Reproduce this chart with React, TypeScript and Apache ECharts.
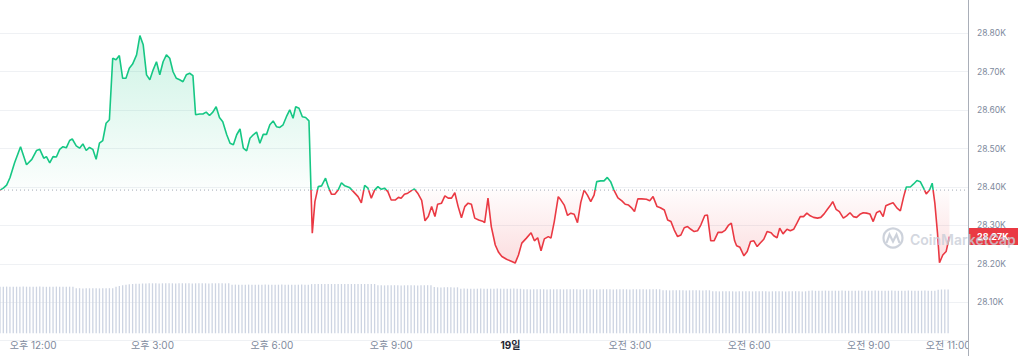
import React, { useEffect, useRef } from 'react';
import * as echarts from 'echarts';

// Opening price (dotted baseline)
const OPEN = 28392;

// Minutes from 18th, 12:00 PM
const TIMES = [-50,-45,-40,-35,-28,-19,-10,-2,5,10,16,20,25,30,35,40,45,50,55,59,65,70,75,80,85,90,95,100,105,110,115,
120,125,130,135,140,145,150,156,161,166,171,176,181,186,191,196,201,206,211,216,221,226,231,236,241,245,251,256,261,266,271,276,281,286,292,297,302,307,312,317,322,327,332,337,342,347,352,357,362,367,372,377,382,387,392,396,401,406,411,416,
421,425,430,435,441,445,450,455,460,465,470,477,483,490,495,500,505,510,515,520,525,530,535,540,546,551,555,560,565,570,575,580,586,591,596,601,606,610,616,621,626,631,636,641,646,651,656,661,666,672,679,681,686,691,697,
702,707,714,722,727,732,737,744,751,756,761,766,771,777,781,786,792,796,801,806,811,816,821,826,831,836,841,846,850,856,861,866,871,876,882,888,893,898,903,907,912,918,925,930,935,941,946,952,957,962,967,972,977,982,987,992,997,1002,1007,1013,1017,1022,1027,1033,1039,1044,1049,1053,1058,
1061,1066,1072,1077,1082,1087,1092,1097,1102,1107,1113,1117,1122,1126,1131,1137,1142,1147,1152,1157,1162,1167,1172,1177,1183,1188,1193,1198,1202,1206,1211,1216,1222,1227,1232,1237,1242,1247,1252,1257,1262,1267,1272,1277,1282,1286,1292,1297,1303,1308,1313,1317,1323,1328,1333,1338,1343,1347,1352,1356,1360,1364,1367,1372,1377,1382];

const PRICES = [28392,28397,28405,28424,28463,28505,28458,28472,28495,28498,28475,28479,28463,28479,28478,28498,28505,28502,28521,28525,28507,28501,28512,28495,28503,28498,28472,28514,28521,28566,28575,
28735,28731,28742,28683,28683,28709,28720,28744,28794,28770,28692,28679,28705,28726,28692,28726,28744,28735,28700,28683,28679,28674,28692,28696,28690,28588,28590,28590,28595,28586,28595,28609,28581,28570,28536,28514,28510,28536,28551,28501,28494,28527,28536,28543,28514,28537,28537,28562,28572,28557,28555,28562,28583,28601,28579,28609,28605,28583,28581,28572,
28280,28362,28401,28403,28423,28401,28381,28381,28392,28411,28403,28399,28388,28375,28359,28404,28397,28371,28392,28401,28394,28397,28388,28366,28366,28373,28371,28381,28384,28390,28395,28384,28365,28312,28323,28349,28323,28355,28358,28377,28371,28371,28385,28349,28320,28349,28358,28355,28319,28314,28310,28307,28371,28297,28249,
28230,28219,28212,28206,28202,28223,28254,28267,28281,28260,28268,28234,28265,28271,28267,28310,28375,28366,28353,28326,28332,28329,28307,28360,28392,28379,28362,28379,28414,28416,28416,28425,28414,28392,28372,28364,28355,28353,28345,28336,28369,28369,28368,28364,28375,28349,28346,28340,28314,28310,28288,28271,28275,28294,28297,28290,28284,28286,28301,28326,28327,28260,28260,28282,28282,28288,28301,28306,28260,
28247,28243,28221,28232,28258,28260,28245,28255,28264,28284,28281,28273,28268,28293,28278,28290,28286,28290,28306,28323,28323,28332,28325,28321,28319,28321,28330,28342,28351,28362,28342,28336,28319,28325,28333,28323,28321,28329,28333,28332,28330,28310,28333,28338,28323,28351,28356,28359,28345,28338,28375,28400,28400,28408,28417,28414,28397,28382,28392,28410,28358,28280,28203,28223,28232,28271];

// Volume bars: one per 5 minutes, starting at VOL_START (relative units)
const VOL_START = -50;
const VOL_STEP = 5;
const VOLUMES = [
46.5,46.6,46.7,46.6,46.5,46.6,46.6,46.7,46.6,46.5,46.6,46.6,
46.7,46.6,46.5,46.6,46.6,46.7,46.6,46.5,46.6,46.6,46.6,
45.0,45.1,44.9,45.0,45.0,45.1,45.0,44.9,45.0,45.0,45.1,45.0,
46.5,47.2,48.0,48.6,49.0,49.3,49.5,49.6,49.8,
49.9,50.0,50.1,50.0,49.9,50.0,50.0,50.1,50.0,49.9,50.0,50.1,50.0,50.0,49.9,50.0,50.1,50.0,50.0,49.9,50.0,50.0,50.1,50.0,49.9,50.0,
48.6,48.7,48.5,48.6,48.6,48.7,48.6,48.5,48.6,48.6,48.7,48.6,48.5,48.6,48.6,48.7,48.6,48.6,48.5,48.6,48.6,48.7,48.6,48.6,
49.2,49.3,49.4,49.3,49.3,49.2,49.3,49.4,49.3,49.3,49.2,49.3,49.3,49.4,49.3,49.2,49.3,49.3,49.4,49.3,
48.0,48.1,47.9,48.0,48.0,48.1,48.0,47.9,48.0,48.0,48.1,48.0,47.9,48.0,48.0,48.1,48.0,
46.2,46.0,45.9,46.0,46.1,46.0,45.9,46.0,
44.6,44.7,44.6,44.5,44.6,44.6,44.7,44.6,44.5,44.6,44.6,44.7,44.6,44.5,44.6,44.6,44.7,44.6,44.5,
44.0,44.1,43.9,44.0,44.0,44.1,44.0,43.9,44.0,44.0,44.1,44.0,43.9,44.0,44.0,44.1,44.0,43.9,44.0,44.0,44.1,
44.0,43.9,44.0,44.0,44.1,44.0,43.9,44.0,44.0,44.1,44.0,43.9,44.0,44.0,44.1,44.0,43.9,44.0,44.0,44.1,44.0,
43.0,43.1,42.9,43.0,43.0,43.1,43.0,42.9,43.0,43.0,43.1,43.0,42.9,43.0,43.0,
42.0,42.1,41.9,42.0,42.0,42.1,42.0,41.9,42.0,42.0,42.1,42.0,41.9,42.0,42.0,42.1,42.0,41.9,42.0,42.0,42.1,42.0,41.9,42.0,42.0,42.1,42.0,41.9,42.0,
42.6,42.7,42.5,42.6,42.6,42.7,42.6,42.5,42.6,42.6,42.7,42.6,42.5,42.6,42.6,42.7,42.6,42.5,42.6,42.6,
42.7,42.6,42.5,42.6,42.6,42.7,42.6,42.5,42.6,42.6,42.7,42.6,42.5,42.6,42.6,42.7,42.6,42.5,42.6,
43.6,43.8,43.8,43.9];

// Time-axis labels (minutes from 18th 12:00 PM)
const X_TICKS = [0, 180, 360, 540, 720, 900, 1080, 1260, 1380];
const X_LABELS = ['오후 12:00', '오후 3:00', '오후 6:00', '오후 9:00', '19일', '오전 3:00', '오전 6:00', '오전 9:00', '오전 11:00'];
const DAY_TICK = 720;
const X_MIN = -50;
const X_MAX = 1410;
const X_LAB_MIN = -180;
const X_LAB_MAX = 1440;
const X_LAB_STEP = 60;
const Y_MIN = 28000;
const Y_MAX = 28900;
const Y_STEP = 100;

const GREEN = '#16c784';
const RED = '#ea3943';
const FONT = 'Inter, "Noto Sans CJK KR", "Noto Sans", sans-serif';

// layout (pixels). The chart canvas is offset up/left so that axis ranges can start outside the visible page.
const W = 1018;
const H = 356;
const OX = 90;
const OY = 10;
const PLOT_W = 968;
const PX_PER_MIN = PLOT_W / (X_MAX - X_MIN);

export default function App() {
  const ref = useRef<HTMLDivElement>(null);

  useEffect(() => {
    const chart = echarts.init(ref.current!, null, { renderer: 'svg' });
    const priceData = TIMES.map((t, i) => [t, PRICES[i]]);
    const volData = VOLUMES.map((v, i) => [VOL_START + i * VOL_STEP, v]);
    const pMax = Math.max(...PRICES);
    const pMin = Math.min(...PRICES);
    const split = (pMax - OPEN) / (pMax - pMin);

    const volLeft = OX + (X_LAB_MIN - X_MIN) * PX_PER_MIN;
    const volWidth = (X_LAB_MAX - X_LAB_MIN) * PX_PER_MIN;

    const gridColor = '#eff1f4';
    chart.setOption({
      animation: false,
      textStyle: { fontFamily: FONT },
      grid: [
        { left: OX, width: PLOT_W, top: OY - 5.1, height: 345.8 },
        { left: volLeft, width: volWidth, top: OY + 283.3, height: 50 },
      ],
      xAxis: [
        { type: 'value', gridIndex: 0, min: X_MIN, max: X_MAX, show: false },
        {
          type: 'value', gridIndex: 1, min: X_LAB_MIN, max: X_LAB_MAX, interval: X_LAB_STEP,
          axisLine: { show: false }, axisTick: { show: false }, splitLine: { show: false },
          axisLabel: {
            margin: 7,
            fontSize: 10,
            color: '#808a9d',
            fontFamily: FONT,
            formatter: (v: number) => {
              const idx = X_TICKS.indexOf(v);
              if (idx < 0) return '';
              return v === DAY_TICK ? '{b|' + X_LABELS[idx] + '}' : X_LABELS[idx];
            },
            rich: { b: { fontWeight: 'bold', color: '#222531', fontSize: 10, fontFamily: FONT } },
          },
        },
      ],
      yAxis: [
        {
          type: 'value', gridIndex: 0, position: 'right',
          min: Y_MIN, max: Y_MAX, interval: Y_STEP,
          axisLine: { show: false }, axisTick: { show: false },
          splitLine: { show: true, lineStyle: { color: gridColor, width: 1 } },
          axisLabel: {
            margin: 9, fontSize: 8.5, color: '#808a9d', fontFamily: FONT,
            formatter: (v: number) => (v === Y_MIN || v === Y_MAX ? '' : (v / 1000).toFixed(2) + 'K'),
          },
        },
        { type: 'value', gridIndex: 1, min: 0, max: 50, show: false },
      ],
      series: [
        {
          type: 'line', xAxisIndex: 0, yAxisIndex: 0, data: priceData,
          symbol: 'none', showSymbol: false, z: 3,
          lineStyle: {
            width: 1.6,
            color: new echarts.graphic.LinearGradient(0, 0, 0, 1, [
              { offset: 0, color: GREEN },
              { offset: split, color: GREEN },
              { offset: split, color: RED },
              { offset: 1, color: RED },
            ]),
          },
          areaStyle: {
            origin: OPEN,
            color: new echarts.graphic.LinearGradient(0, 0, 0, 1, [
              { offset: 0, color: 'rgba(22,199,132,0.30)' },
              { offset: split, color: 'rgba(22,199,132,0.02)' },
              { offset: split, color: 'rgba(234,57,67,0.02)' },
              { offset: 1, color: 'rgba(234,57,67,0.24)' },
            ]),
          },
        },
        {
          type: 'bar', xAxisIndex: 1, yAxisIndex: 1, data: volData,
          barWidth: 1.3, silent: true,
          itemStyle: { color: '#cdd4e2' },
        },
      ],
    });

    const last = PRICES[PRICES.length - 1];
    const yLast = chart.convertToPixel({ yAxisIndex: 0 }, last) as number;
    const yOpen = chart.convertToPixel({ yAxisIndex: 0 }, OPEN) as number;
    const axisX = OX + PLOT_W + 0.5;
    const wm = '#c8cdd7';
    chart.setOption({
      graphic: [
        {
          type: 'line', z: 50, shape: { x1: OX, y1: yOpen, x2: OX + PLOT_W, y2: yOpen },
          style: { stroke: '#a3a9b6', lineWidth: 1, lineDash: [1, 3] },
        },
        { type: 'rect', z: 100, shape: { x: axisX, y: OY + 336, width: 60, height: 30 }, style: { fill: '#fff' } },
        { type: 'rect', z: 100, shape: { x: axisX, y: 0, width: 60, height: OY + 12 }, style: { fill: '#fff' } },
        { type: 'line', z: 101, shape: { x1: axisX, y1: 0, x2: axisX, y2: OY + H }, style: { stroke: '#a9aeb8', lineWidth: 1 } },
        { type: 'rect', z: 102, shape: { x: axisX + 0.5, y: yLast - 8.5, width: 60, height: 17 }, style: { fill: RED } },
        {
          type: 'text', z: 103, x: axisX + 8.5, y: yLast,
          style: { text: (last / 1000).toFixed(2) + 'K', fill: '#fff', font: 'bold 9px ' + FONT, verticalAlign: 'middle', align: 'left' },
        },
        { type: 'circle', z: 104, shape: { cx: OX + 893, cy: OY + 238, r: 9.5 }, style: { fill: 'none', stroke: wm, lineWidth: 2.2, opacity: 0.9 } },
        {
          type: 'polyline', z: 104,
          shape: { points: [[OX + 886.5, OY + 243], [OX + 889.5, OY + 234.5], [OX + 893, OY + 241.5], [OX + 896.5, OY + 234.5], [OX + 899.5, OY + 243]] },
          style: { fill: 'none', stroke: wm, lineWidth: 2.2, opacity: 0.9 },
        },
        {
          type: 'text', z: 104, x: OX + 910, y: OY + 239,
          style: { text: 'CoinMarketCap', fill: wm, font: '600 14px ' + FONT, verticalAlign: 'middle', align: 'left', opacity: 0.8 },
        },
      ],
    });

    return () => chart.dispose();
  }, []);

  return (
    <div style={{ position: 'absolute', left: 0, top: 0, width: W, height: H, overflow: 'hidden' }}>
      <div ref={ref} style={{ position: 'absolute', left: -OX, top: -OY, width: W + OX, height: H + OY }} />
    </div>
  );
}
